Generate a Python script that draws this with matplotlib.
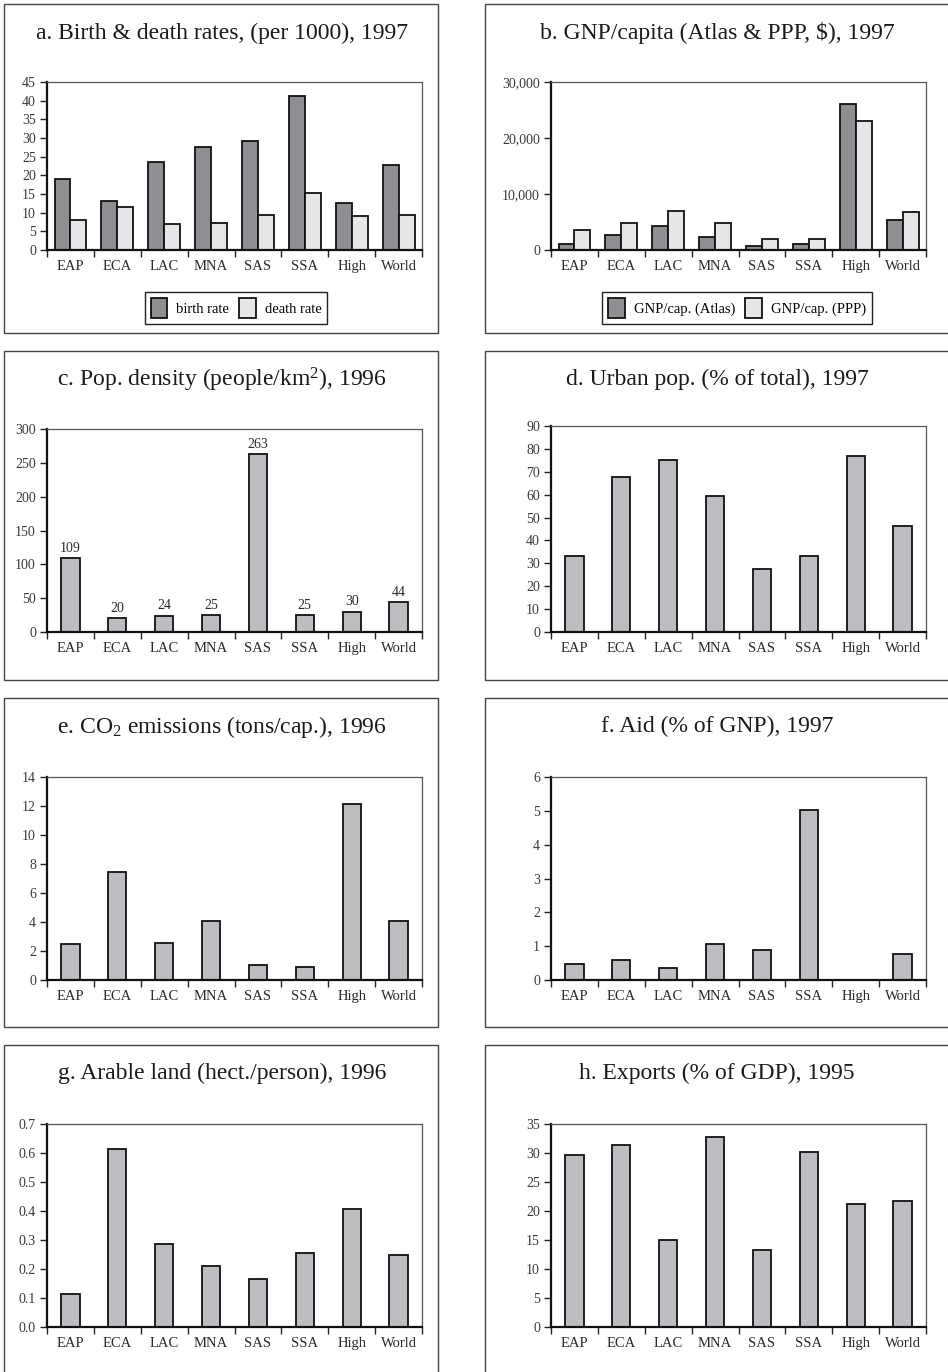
import matplotlib
matplotlib.use("Agg")
import matplotlib.pyplot as plt
from matplotlib.patches import Rectangle
from matplotlib.ticker import FuncFormatter

plt.rcParams['font.family'] = ['Liberation Serif', 'DejaVu Serif']
plt.rcParams['mathtext.fontset'] = 'custom'
plt.rcParams['mathtext.rm'] = 'Liberation Serif'
plt.rcParams['mathtext.it'] = 'Liberation Serif:italic'

regions = ["EAP", "ECA", "LAC", "MNA", "SAS", "SSA", "High", "World"]

birth_rate = [19.0, 13.0, 23.6, 27.5, 29.1, 41.3, 12.5, 22.9]
death_rate = [8.0, 11.6, 6.9, 7.3, 9.3, 15.3, 9.1, 9.3]

gnp_atlas = [1100, 2700, 4200, 2300, 700, 1000, 26000, 5400]
gnp_ppp = [3500, 4900, 7000, 4900, 1900, 1900, 23000, 6800]

pop_density = [109, 20, 24, 25, 263, 25, 30, 44]
urban_pop = [33.2, 67.6, 75.0, 59.6, 27.4, 33.2, 77.0, 46.5]
co2 = [2.49, 7.42, 2.56, 4.10, 1.01, 0.92, 12.15, 4.10]
aid = [0.48, 0.59, 0.35, 1.07, 0.90, 5.03, 0.0, 0.78]
arable = [0.114, 0.615, 0.285, 0.211, 0.165, 0.254, 0.406, 0.247]
exports = [29.7, 31.3, 15.0, 32.7, 13.2, 30.1, 21.2, 21.8]

W, H = 948, 1372
DARK = "#8e8f93"
LIGHT = "#e5e6e8"
MID = "#bcbdc1"
TXT = "#2a2a2a"

fig = plt.figure(figsize=(W / 100, H / 100), dpi=100)


def px_axes(x0, top, x1, bottom):
    return fig.add_axes([x0 / W, 1 - bottom / H, (x1 - x0) / W, (bottom - top) / H])


def style(ax, ymax, step, fmt=None):
    ax.set_xlim(-0.5, 7.5)
    ax.set_ylim(0, ymax)
    n = int(round(ymax / step))
    ax.set_yticks([i * step for i in range(n + 1)])
    if fmt:
        ax.yaxis.set_major_formatter(FuncFormatter(fmt))
    ax.set_xticks([i - 0.5 for i in range(9)])
    ax.set_xticklabels([])
    ax.set_xticks(range(8), minor=True)
    ax.set_xticklabels(regions, minor=True)
    ax.tick_params(axis='x', which='major', direction='out', length=5, width=1, color='#222')
    ax.tick_params(axis='x', which='minor', length=0, pad=7, labelsize=10.5, labelcolor=TXT)
    ax.tick_params(axis='y', direction='out', length=5, width=1, color='#222',
                   pad=3, labelsize=10, labelcolor='#3a3a3a')
    for s in ['left', 'bottom']:
        ax.spines[s].set_linewidth(1.6)
        ax.spines[s].set_color('#111')
    for s in ['top', 'right']:
        ax.spines[s].set_linewidth(0.9)
        ax.spines[s].set_color('#555')


def frame(x0, top, x1, bottom):
    fig.patches.append(Rectangle((x0 / W, 1 - bottom / H), (x1 - x0) / W, (bottom - top) / H,
                                 transform=fig.transFigure, fill=False,
                                 edgecolor='#444', linewidth=1.0))


def title(xc, yc, text):
    fig.text(xc / W, 1 - yc / H, text, ha='center', va='center', fontsize=17, color='#1a1a1a')


def legend(ax, xc, yc):
    ax.legend(loc='center', bbox_to_anchor=(xc / W, 1 - yc / H), bbox_transform=fig.transFigure,
              ncol=2, frameon=True, fancybox=False, edgecolor='#222', framealpha=1,
              fontsize=10.5, handlelength=1.15, handleheight=1.75, handletextpad=0.6,
              columnspacing=0.7, borderpad=0.4, borderaxespad=0)


# panel boxes
LX0, LX1 = 4, 438
RX0, RX1 = 485, 960
rows = [(4, 333), (351, 680), (698, 1027), (1045, 1400)]
for top, bot in rows:
    frame(LX0, top, LX1, bot)
    frame(RX0, top, RX1, bot)

x = list(range(8))
bw = 0.34
sw = 0.39

# a
ax = px_axes(47, 82, 422, 250)
ax.bar([i - bw / 2 for i in x], birth_rate, bw, color=DARK, edgecolor='#111', linewidth=1.3, label='birth rate')
ax.bar([i + bw / 2 for i in x], death_rate, bw, color=LIGHT, edgecolor='#111', linewidth=1.3, label='death rate')
style(ax, 45, 5)
title(222, 33, "a. Birth & death rates, (per 1000), 1997")
legend(ax, 236, 308)

# b
ax = px_axes(551, 82, 926, 250)
ax.bar([i - bw / 2 for i in x], gnp_atlas, bw, color=DARK, edgecolor='#111', linewidth=1.3, label='GNP/cap. (Atlas)')
ax.bar([i + bw / 2 for i in x], gnp_ppp, bw, color=LIGHT, edgecolor='#111', linewidth=1.3, label='GNP/cap. (PPP)')
style(ax, 30000, 10000, fmt=lambda v, p: f"{int(v):,}")
title(717, 33, "b. GNP/capita (Atlas & PPP, \\$), 1997")
legend(ax, 737, 308)

# c
ax = px_axes(47, 429, 422, 632)
bars = ax.bar(x, pop_density, sw, color=MID, edgecolor='#111', linewidth=1.3)
for b, v in zip(bars, pop_density):
    ax.text(b.get_x() + b.get_width() / 2, v + 5, str(v), ha='center', va='bottom',
            fontsize=10, color=TXT)
style(ax, 300, 50)
title(222, 380, "c. Pop. density (people/km$^2$), 1996")

# d
ax = px_axes(551, 426, 926, 632)
ax.bar(x, urban_pop, sw, color=MID, edgecolor='#111', linewidth=1.3)
style(ax, 90, 10)
title(717, 379, "d. Urban pop. (% of total), 1997")

# e
ax = px_axes(47, 777, 422, 980)
ax.bar(x, co2, sw, color=MID, edgecolor='#111', linewidth=1.3)
style(ax, 14, 2)
title(222, 727, "e. CO$_2$ emissions (tons/cap.), 1996")

# f
ax = px_axes(551, 777, 926, 980)
ax.bar(x, aid, sw, color=MID, edgecolor='#111', linewidth=1.3)
style(ax, 6, 1)
title(717, 726, "f. Aid (% of GNP), 1997")

# g
ax = px_axes(47, 1124, 422, 1327)
ax.bar(x, arable, sw, color=MID, edgecolor='#111', linewidth=1.3)
style(ax, 0.7, 0.1, fmt=lambda v, p: f"{v:.1f}")
title(222, 1073, "g. Arable land (hect./person), 1996")

# h
ax = px_axes(551, 1124, 926, 1327)
ax.bar(x, exports, sw, color=MID, edgecolor='#111', linewidth=1.3)
style(ax, 35, 5)
title(717, 1073, "h. Exports (% of GDP), 1995")

fig.savefig("out.png", dpi=100)
